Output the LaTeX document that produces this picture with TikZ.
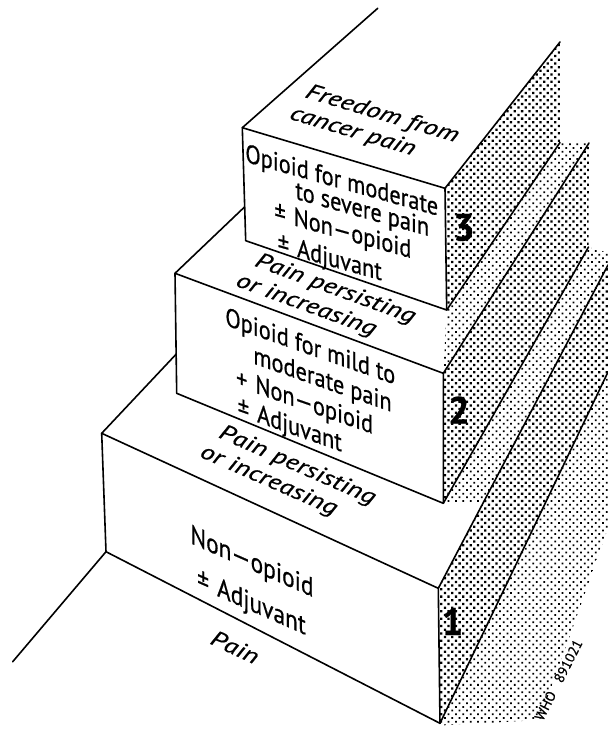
\documentclass[tikz,border=0pt]{standalone}
\usepackage{fontspec}
\usepackage{tikz}
\usetikzlibrary{patterns.meta}
\newfontfamily\ladderfont{PT Sans}[FakeStretch=0.86, FakeBold=0.6]
\newfontfamily\slopefont{PT Sans}[FakeBold=0.6]
\newcommand{\frontfont}{\ladderfont\fontsize{13}{15}\selectfont}
\newcommand{\topfont}{\slopefont\itshape\fontsize{14}{16}\selectfont}
\newcommand{\numfont}{\slopefont\bfseries\fontsize{19}{19}\selectfont}
\newcommand{\signleft}[1]{\llap{#1\hspace{4pt}}}
\newcommand{\backline}{\hspace*{-20pt}}
\tikzstyle{edge} = [line width=0.8pt, line join=round, line cap=round]
\tikzstyle{darkdots} = [pattern={Dots[distance=2.6pt, angle=45, radius=0.8pt]}, pattern color=black]
\tikzstyle{lightdots} = [pattern={Dots[distance=2.6pt, angle=45, radius=0.62pt]}, pattern color=black]
\tikzstyle{fronttext} = [font=\frontfont, inner sep=0pt, anchor=base west, transform shape]
\tikzstyle{toptext} = [font=\topfont, inner sep=0pt, align=center, transform shape]
\tikzstyle{stepnum} = [font=\numfont, inner sep=0pt]

\begin{document}
\begin{tikzpicture}[x=0.5pt, y=-0.5pt]
\useasboundingbox (0,0) rectangle (608,729);
\coordinate (s3tl) at (242.3,127.7);
\coordinate (s3bl) at (245.7,240.7);
\coordinate (s3tr) at (445,188.3);
\coordinate (s3br) at (446.7,310);
\coordinate (s2tl) at (175,273.3);
\coordinate (s2bl) at (176.7,393.3);
\coordinate (s2tr) at (443.3,373.3);
\coordinate (s2br) at (443.3,503.3);
\coordinate (s1tl) at (101.7,433.3);
\coordinate (s1bl) at (106,551.7);
\coordinate (s1tr) at (438.3,588.3);
\coordinate (s1br) at (440,723.3);
\coordinate (topend) at (377.7,8.3);
\coordinate (s2back) at (244.5,207);
\coordinate (s1back) at (176.3,354);
\coordinate (floorend) at (12.7,661.7);
\coordinate (r3top) at (560,42);
\coordinate (r3bot) at (560,142.5);
\coordinate (r2top) at (589,143);
\coordinate (r2bot) at (588.5,247);
\coordinate (r2corner) at (608,253);
\coordinate (r1top) at (608,265);
\coordinate (r1bot) at (608,372);
\coordinate (s2ledge) at (482.9,503.3);
\coordinate (shadowtop) at (608,528);
\coordinate (shadowend) at (540,720);
\coordinate (shadowbot) at (440,725.5);

\path[darkdots] (s3tr) -- (r3top) -- (r3bot) -- (s3br) -- cycle;
\path[darkdots] (s2tr) -- (r2top) -- (r2bot) -- (s2br) -- cycle;
\path[darkdots] (s1tr) -- (r1top) -- (r1bot) -- (s1br) -- cycle;
\path[lightdots] (s3br) -- (r3bot) -- (r2top) -- (s2tr) -- cycle;
\path[lightdots] (s2br) -- (r2bot) -- (r2corner) -- (r1top) -- (s2ledge) -- cycle;
\path[lightdots] (s1br) -- (r1bot) -- (shadowtop) -- (shadowend) -- (shadowbot) -- cycle;

\draw[edge] (topend) -- (s3tl) -- (s3tr) -- (r3top);
\draw[edge] (s3tl) -- (s3bl) -- (s3br) -- (s3tr);
\draw[edge] (s3br) -- (r3bot);
\draw[edge] (s2back) -- (s2tl) -- (s2tr) -- (r2top);
\draw[edge] (s2tl) -- (s2bl) -- (s2br) -- (s2tr);
\draw[edge] (s2br) -- (r2bot);
\draw[edge] (s1back) -- (s1tl) -- (s1tr) -- (r1top);
\draw[edge] (s1tl) -- (s1bl) -- (s1br) -- (s1tr);
\draw[edge] (s1br) -- (r1bot);
\draw[edge] (floorend) -- (s1bl);

\begin{scope}[shift={(245,161.7)}, yslant=-0.28]
  \node (opioid3) [fronttext] at (0,0) {Opioid for moderate};
  \node (severe3) [fronttext] at (50,23) {to severe pain};
  \node (nonop3) [fronttext] at (48.3,50) {\signleft{±}Non—opioid};
  \node (adjuv3) [fronttext] at (51.7,80.5) {\signleft{±}Adjuvant};
\end{scope}
\begin{scope}[shift={(225,325)}, yslant=-0.35]
  \node (opioid2) [fronttext] at (0,0) {Opioid for mild to};
  \node (mild2) [fronttext] at (28,28.6) {moderate pain};
  \node (nonop2) [fronttext] at (30,57.2) {\signleft{+}Non—opioid};
  \node (adjuv2) [fronttext] at (31.7,85.8) {\signleft{±}Adjuvant};
\end{scope}
\begin{scope}[shift={(190,543)}, yslant=-0.44]
  \node (nonop1) [fronttext, font=\ladderfont\fontsize{13.6}{15}\selectfont] at (0,0) {Non—opioid};
  \node (adjuv1) [fronttext, font=\ladderfont\fontsize{13.6}{15}\selectfont] at (26.7,41) {\signleft{±}Adjuvant};
\end{scope}

\begin{scope}[shift={(377,126)}, cm={0.958,-0.285,0.32,0.72,(0,0)}]
  \node (freedom) [toptext] at (0,0) {Freedom from\\\backline cancer pain};
\end{scope}
\begin{scope}[shift={(330,301)}, cm={0.94,-0.342,0.32,0.72,(0,0)}]
  \node (persist2) [toptext] at (0,0) {Pain persisting\\\backline or increasing};
\end{scope}
\begin{scope}[shift={(292,477.5)}, cm={0.916,-0.402,0.32,0.72,(0,0)}]
  \node (persist1) [toptext] at (0,0) {Pain persisting\\\backline or increasing};
\end{scope}
\begin{scope}[shift={(235,647)}, cm={0.906,-0.423,0.32,0.72,(0,0)}]
  \node (pain) [toptext] at (0,0) {Pain};
\end{scope}

\node (num3) [stepnum] at (464,227.5) {3};
\node (num2) [stepnum] at (459,410) {2};
\node (num1) [stepnum] at (452.5,621.5) {1};
\node (whomark) [font=\slopefont\fontsize{7}{7}\selectfont, rotate=63, inner sep=0pt] at (558.5,680) {WHO\hspace{6pt}891021};
\end{tikzpicture}
\end{document}
